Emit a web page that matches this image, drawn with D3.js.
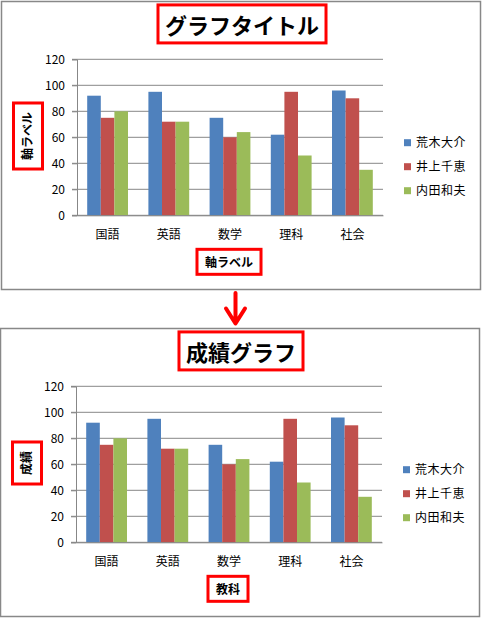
<!DOCTYPE html>
<html>
<head>
<meta charset="utf-8">
<script src="https://cdn.jsdelivr.net/npm/d3@7"></script>
<style>
  body { margin: 0; background: #fff; }
  text { font-family: "Noto Sans CJK JP", sans-serif; }
</style>
</head>
<body>
<svg id="canvas" width="483" height="618"></svg>
<script>
// data
let subjects = ["国語", "英語", "数学", "理科", "社会"];
let students = ["荒木大介", "井上千恵", "内田和夫"];
let arakiScores = [92, 95, 75, 62, 96];
let inoueScores = [75, 72, 60, 95, 90];
let uchidaScores = [80, 72, 64, 46, 35];
let yTicks = [0, 20, 40, 60, 80, 100, 120];

let titlesTop = { title: "グラフタイトル", yLabel: "軸ラベル", xLabel: "軸ラベル" };
let titlesBottom = { title: "成績グラフ", yLabel: "成績", xLabel: "教科" };

let colors = ["#4F81BD", "#C0504D", "#9BBB59"];
let allScores = [arakiScores, inoueScores, uchidaScores];

let canvas = d3.select("#canvas");

// red box round a text element
let boxAround = (g, textSel, padX, padY) => {
  let b = textSel.node().getBBox();
  g.insert("rect", () => textSel.node())
    .attr("x", b.x - padX)
    .attr("y", b.y - padY)
    .attr("width", b.width + padX * 2)
    .attr("height", b.height + padY * 2)
    .attr("fill", "#fff")
    .attr("stroke", "#FF0000")
    .attr("stroke-width", 3);
};

// one chart, frame top-left at (left, top)
let drawChart = (left, top, labels) => {
  let g = canvas.append("g").attr("transform", `translate(${left},${top})`);

  g.append("rect")
    .attr("x", 0.5).attr("y", 0.5)
    .attr("width", 479).attr("height", 288)
    .attr("fill", "#fff")
    .attr("stroke", "#888")
    .attr("stroke-width", 1.5);

  let x0 = d3.scaleBand().domain(subjects).range([76, 382]);
  let x1 = d3.scaleBand().domain(students).range([0, x0.bandwidth()]).paddingOuter(0.75);
  let y = d3.scaleLinear().domain([0, 120]).range([214.3, 58.3]);

  // gridlines
  g.append("g")
    .selectAll("line")
    .data(yTicks)
    .enter()
    .append("line")
    .attr("x1", 71).attr("x2", 382)
    .attr("y1", (d) => y(d)).attr("y2", (d) => y(d))
    .attr("stroke", "#878787")
    .attr("stroke-width", 1);

  // y axis
  let yAxis = g.append("g")
    .attr("transform", "translate(76,0)")
    .call(d3.axisLeft(y).tickValues(yTicks).tickSize(5).tickPadding(7));
  yAxis.select(".domain").attr("stroke", "#878787");
  yAxis.selectAll(".tick line").attr("stroke", "#878787");
  yAxis.selectAll("text")
    .attr("font-size", 12)
    .attr("fill", "#000")
    .style("font-family", "'Noto Sans CJK JP', sans-serif");

  // bars
  let groups = g.append("g")
    .selectAll("g")
    .data(subjects)
    .enter()
    .append("g")
    .attr("transform", (d) => `translate(${x0(d)},0)`);

  groups.selectAll("rect")
    .data((subj, i) => students.map((s, k) => ({ student: s, value: allScores[k][i], k: k })))
    .enter()
    .append("rect")
    .attr("x", (d) => x1(d.student))
    .attr("width", x1.bandwidth())
    .attr("y", (d) => y(d.value))
    .attr("height", (d) => y(0) - y(d.value))
    .attr("fill", (d) => colors[d.k]);

  // x axis
  let xAxis = g.append("g")
    .attr("transform", `translate(0,${y(0)})`)
    .call(d3.axisBottom(x0).tickSize(0).tickPadding(15));
  xAxis.select(".domain").attr("stroke", "#878787");
  xAxis.selectAll("text")
    .attr("font-size", 12)
    .attr("fill", "#000")
    .style("font-family", "'Noto Sans CJK JP', sans-serif");

  // legend
  let legend = g.append("g")
    .selectAll("g")
    .data(students)
    .enter()
    .append("g")
    .attr("transform", (d, i) => `translate(403,${141.7 + i * 24})`);
  legend.append("rect")
    .attr("x", 0).attr("y", -3.5)
    .attr("width", 7).attr("height", 7)
    .attr("fill", (d, i) => colors[i]);
  legend.append("text")
    .attr("x", 12)
    .attr("dy", "0.36em")
    .attr("font-size", 12)
    .attr("letter-spacing", 0.5)
    .text((d) => d);

  // title
  let title = g.append("text")
    .attr("x", 241)
    .attr("y", 25)
    .attr("dy", "0.36em")
    .attr("text-anchor", "middle")
    .attr("font-size", 22)
    .attr("font-weight", "bold")
    .text(labels.title);
  boxAround(g, title, 7, 3);

  // y axis label
  let yl = g.append("text")
    .attr("transform", "translate(27,135) rotate(-90)")
    .attr("dy", "0.36em")
    .attr("text-anchor", "middle")
    .attr("font-size", 12)
    .attr("font-weight", "bold")
    .text(labels.yLabel);
  let yb = yl.node().getBBox();
  g.insert("rect", () => yl.node())
    .attr("x", 27 - yb.height / 2 - 6)
    .attr("y", 135 - yb.width / 2 - 9)
    .attr("width", yb.height + 12)
    .attr("height", yb.width + 18)
    .attr("fill", "#fff")
    .attr("stroke", "#FF0000")
    .attr("stroke-width", 3);

  // x axis label
  let xl = g.append("text")
    .attr("x", 228)
    .attr("y", 262)
    .attr("dy", "0.36em")
    .attr("text-anchor", "middle")
    .attr("font-size", 12)
    .attr("font-weight", "bold")
    .text(labels.xLabel);
  boxAround(g, xl, 8, 4);
};

drawChart(1, 1, titlesTop);
drawChart(0, 328, titlesBottom);

// arrow between the two charts
canvas.append("path")
  .attr("d", "M235.5,293 V323 M226,308.5 L235.5,323.5 L245,308.5")
  .attr("fill", "none")
  .attr("stroke", "#FF0000")
  .attr("stroke-width", 4)
  .attr("stroke-linecap", "round")
  .attr("stroke-linejoin", "round");
</script>
</body>
</html>
